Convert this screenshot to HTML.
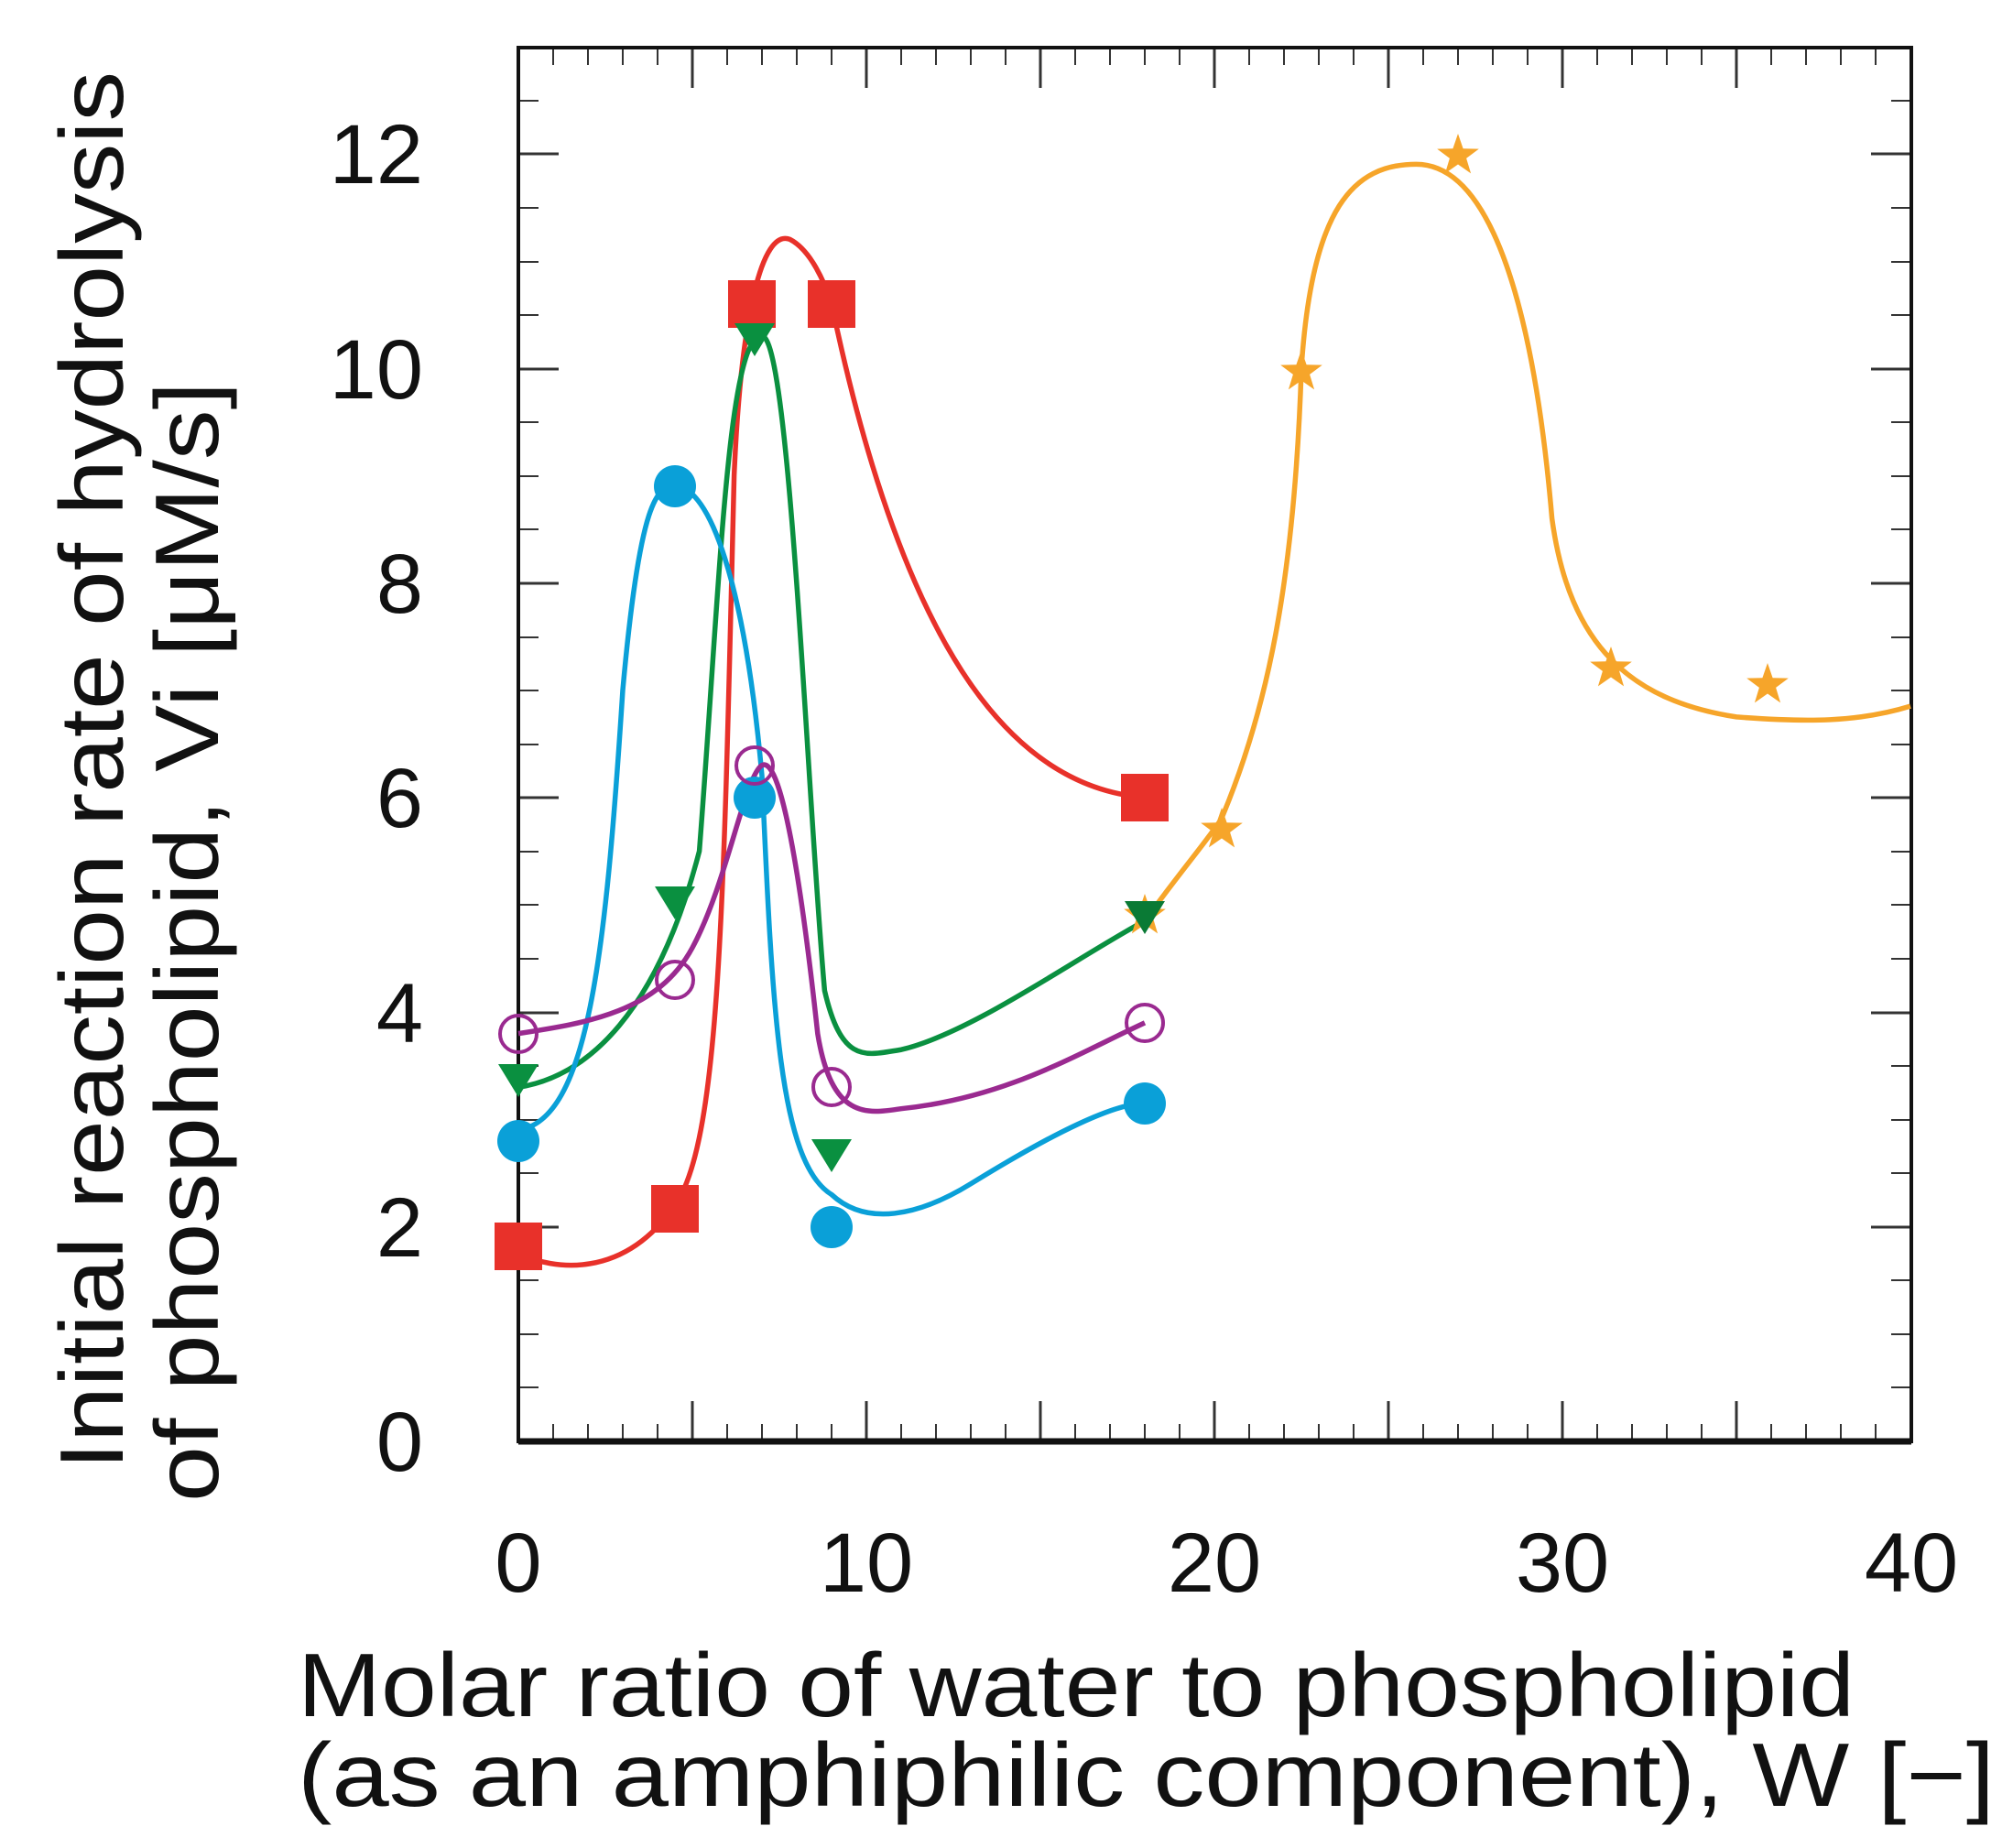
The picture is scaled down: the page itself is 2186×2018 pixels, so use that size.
<!DOCTYPE html>
<html><head><style>html,body{margin:0;padding:0;background:#fff}svg{display:block}text{font-family:"Liberation Sans Narrow","Liberation Sans",sans-serif;fill:#111}</style></head>
<body>
<svg width="2186" height="2018" viewBox="0 0 2186 2018" xmlns="http://www.w3.org/2000/svg">
<rect width="2186" height="2018" fill="#fff"/>
<g stroke="#333" stroke-width="2">
<path d="M566,1555v19M604,1555v19M642,1555v19M680,1555v19M718,1555v19M794,1555v19M832,1555v19M870,1555v19M908,1555v19M984,1555v19M1022,1555v19M1060,1555v19M1098,1555v19M1174,1555v19M1212,1555v19M1250,1555v19M1288,1555v19M1364,1555v19M1402,1555v19M1440,1555v19M1478,1555v19M1554,1555v19M1592,1555v19M1630,1555v19M1668,1555v19M1744,1555v19M1782,1555v19M1820,1555v19M1858,1555v19M1934,1555v19M1972,1555v19M2010,1555v19M2048,1555v19
M604,52v19M642,52v19M680,52v19M718,52v19M794,52v19M832,52v19M870,52v19M908,52v19M984,52v19M1022,52v19M1060,52v19M1098,52v19M1174,52v19M1212,52v19M1250,52v19M1288,52v19M1364,52v19M1402,52v19M1440,52v19M1478,52v19M1554,52v19M1592,52v19M1630,52v19M1668,52v19M1744,52v19M1782,52v19M1820,52v19M1858,52v19M1934,52v19M1972,52v19M2010,52v19M2048,52v19"/>
<path stroke-width="3" d="M756,1574v-44M946,1574v-44M1136,1574v-44M1326,1574v-44M1516,1574v-44M1706,1574v-44M1896,1574v-44M756,52v44M946,52v44M1136,52v44M1326,52v44M1516,52v44M1706,52v44M1896,52v44
M566,1340h44M566,1106h44M566,871h44M566,637h44M566,403h44M566,168h44M2087,1340h-44M2087,1106h-44M2087,871h-44M2087,637h-44M2087,403h-44M2087,168h-44"/>
<path d="M566,1515h22M566,1457h22M566,1398h22M566,1281h22M566,1223h22M566,1164h22M566,1047h22M566,988h22M566,930h22M566,813h22M566,754h22M566,696h22M566,578h22M566,520h22M566,461h22M566,344h22M566,286h22M566,227h22M566,110h22
M2087,1515h-22M2087,1457h-22M2087,1398h-22M2087,1281h-22M2087,1223h-22M2087,1164h-22M2087,1047h-22M2087,988h-22M2087,930h-22M2087,813h-22M2087,754h-22M2087,696h-22M2087,578h-22M2087,520h-22M2087,461h-22M2087,344h-22M2087,286h-22M2087,227h-22M2087,110h-22"/>
</g>
<rect x="566" y="52" width="1521" height="1522" fill="none" stroke="#111" stroke-width="4"/>
<path d="M566,1574h1521" stroke="#111" stroke-width="7"/>
<g transform="translate(566,1574) scale(38,-117.2)" fill="none">
<path vector-effect="non-scaling-stroke" stroke-width="5.5" stroke="#e8312a" d="M0,1.75 C1,1.6 3,1.5 4.5,2.2 C5.8,2.8 5.9,5 6.2,9 C6.4,10.5 7,11.3 7.8,11.2 C8.4,11.1 8.8,10.8 9,10.6 C11,7.5 14,6.1 18,6"/>
<path vector-effect="non-scaling-stroke" stroke-width="5.5" stroke="#0a9040" d="M0,3.3 C2,3.4 4,4 5.2,5.5 C5.8,8 6,10.3 7,10.3 C7.8,10.3 8.3,6 8.8,4.2 C9.3,3.5 10,3.6 11,3.65 C13,3.8 16,4.5 18,4.85"/>
<path vector-effect="non-scaling-stroke" stroke-width="5.5" stroke="#0aa0d8" d="M0,2.9 C2,3 2.5,4.5 3,7 C3.5,8.8 4,8.9 4.5,8.9 C5.5,8.9 6.5,8 7,6.2 C7.3,4 7.5,2.6 9,2.3 C10,2.0 11.5,2.1 13,2.4 C15,2.8 17,3.15 18,3.15"/>
<path vector-effect="non-scaling-stroke" stroke-width="5.5" stroke="#9a2a90" d="M0,3.8 C2,3.9 4,4 5,4.6 C6,5.2 6.5,6.2 7,6.3 C7.6,6.4 8.2,5 8.6,3.8 C9,3 10,3.05 11,3.1 C14,3.2 16,3.6 18,3.9"/>
<path vector-effect="non-scaling-stroke" stroke-width="5.5" stroke="#f6a52a" d="M18,4.85 C19,5.3 19.8,5.6 20.2,5.8 C21.5,6.8 22.3,8 22.5,10 C22.8,11.5 24,11.9 25.8,11.9 C28,11.9 29.2,10.5 29.7,8.6 C30.2,7.4 32,6.9 35,6.75 C37,6.7 38.5,6.7 40,6.85"/>
</g>
<g fill="#e8312a"><rect x="540" y="1335" width="52" height="52"/><rect x="711" y="1294" width="52" height="52"/><rect x="795" y="306" width="52" height="52"/><rect x="882" y="306" width="52" height="52"/><rect x="1224" y="845" width="52" height="52"/></g>
<g fill="#0a9040"><path d="M544,1162h44l-22,36z"/><path d="M715,968h44l-22,36z"/><path d="M802,353h44l-22,36z"/><path d="M886,1244h44l-22,36z"/></g>
<g fill="#0aa0d8"><circle cx="566" cy="1246" r="23"/><circle cx="737" cy="531" r="23"/><circle cx="824" cy="871" r="23"/><circle cx="908" cy="1340" r="23"/><circle cx="1250" cy="1205" r="23"/></g>
<g fill="none" stroke="#9a2a90" stroke-width="4"><circle cx="566" cy="1129" r="20"/><circle cx="737" cy="1070" r="20"/><circle cx="824" cy="836" r="20"/><circle cx="908" cy="1187" r="20"/><circle cx="1250" cy="1117" r="20"/></g>
<g fill="#f6a52a">
<path d="M0,-24 L5.6,-7.7 L22.8,-7.4 L9.1,2.9 L14.1,19.4 L0,9.5 L-14.1,19.4 L-9.1,2.9 L-22.8,-7.4 L-5.6,-7.7Z" transform="translate(1250,1000)"/>
<path d="M0,-24 L5.6,-7.7 L22.8,-7.4 L9.1,2.9 L14.1,19.4 L0,9.5 L-14.1,19.4 L-9.1,2.9 L-22.8,-7.4 L-5.6,-7.7Z" transform="translate(1334,906)"/>
<path d="M0,-24 L5.6,-7.7 L22.8,-7.4 L9.1,2.9 L14.1,19.4 L0,9.5 L-14.1,19.4 L-9.1,2.9 L-22.8,-7.4 L-5.6,-7.7Z" transform="translate(1421,406)"/>
<path d="M0,-24 L5.6,-7.7 L22.8,-7.4 L9.1,2.9 L14.1,19.4 L0,9.5 L-14.1,19.4 L-9.1,2.9 L-22.8,-7.4 L-5.6,-7.7Z" transform="translate(1592,170)"/>
<path d="M0,-24 L5.6,-7.7 L22.8,-7.4 L9.1,2.9 L14.1,19.4 L0,9.5 L-14.1,19.4 L-9.1,2.9 L-22.8,-7.4 L-5.6,-7.7Z" transform="translate(1759,730)"/>
<path d="M0,-24 L5.6,-7.7 L22.8,-7.4 L9.1,2.9 L14.1,19.4 L0,9.5 L-14.1,19.4 L-9.1,2.9 L-22.8,-7.4 L-5.6,-7.7Z" transform="translate(1930,748)"/>
</g>
<path d="M1228,984h44l-22,36z" fill="#0a7a35"/>
<g font-size="92" text-anchor="end">
<text x="462" y="1606">0</text><text x="462" y="1372">2</text><text x="462" y="1138">4</text><text x="462" y="903">6</text><text x="462" y="669">8</text><text x="462" y="435">10</text><text x="462" y="200">12</text>
</g>
<g font-size="92" text-anchor="middle">
<text x="566" y="1738">0</text><text x="946" y="1738">10</text><text x="1326" y="1738">20</text><text x="1706" y="1738">30</text><text x="2087" y="1738">40</text>
</g>
<text x="325" y="1874" font-size="98" textLength="1700" lengthAdjust="spacingAndGlyphs">Molar ratio of water to phospholipid</text>
<text x="325" y="1972" font-size="98" textLength="1853" lengthAdjust="spacingAndGlyphs">(as an amphiphilic component), W [−]</text>
<text transform="translate(134,1605) rotate(-90)" font-size="98" textLength="1527" lengthAdjust="spacingAndGlyphs">Initial reaction rate of hydrolysis</text>
<text transform="translate(238,1640) rotate(-90)" font-size="98" textLength="1223" lengthAdjust="spacingAndGlyphs">of phospholipid, Vi [μM/s]</text>
</svg>
</body></html>
